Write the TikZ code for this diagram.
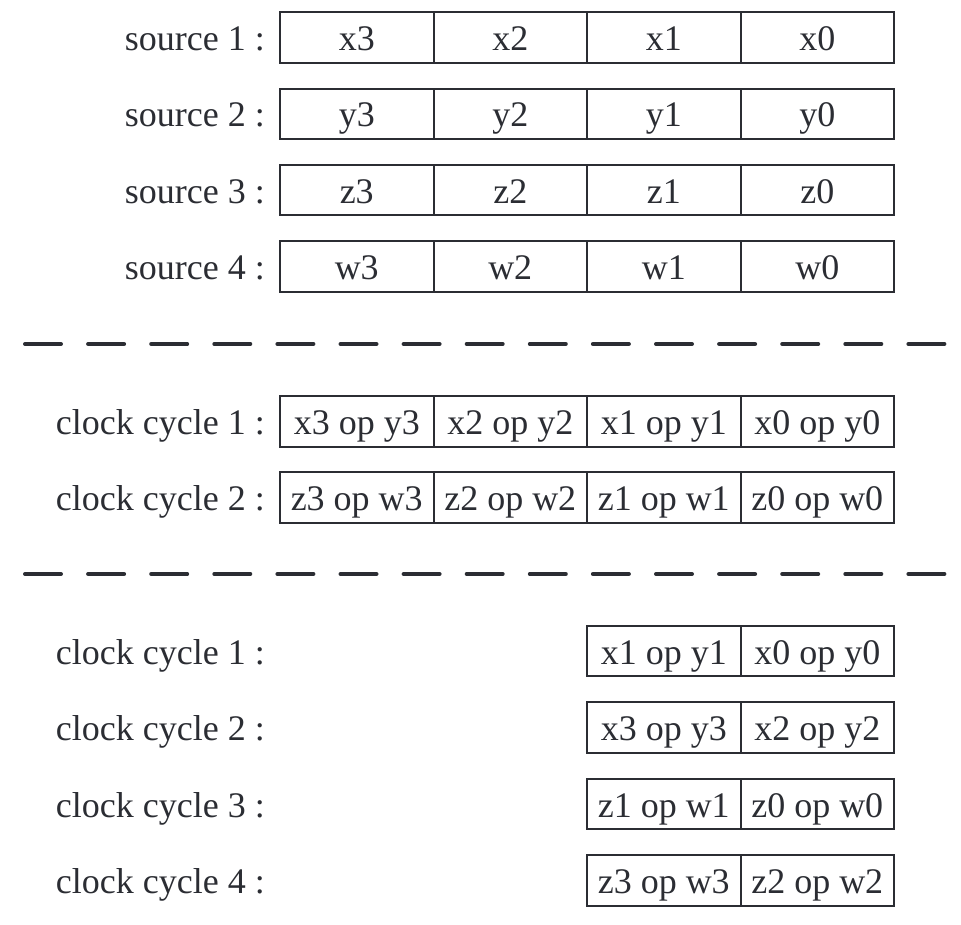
\documentclass[tikz,border=0pt]{standalone}
\usepackage{fontspec}
\setmainfont{Liberation Serif}
\definecolor{ink}{HTML}{2B2D33}
\begin{document}
\begin{tikzpicture}[x=1pt,y=-1pt,
  cell/.style={draw=ink,line width=2pt,minimum width=153.5pt,minimum height=50.5pt,inner sep=0pt,text height=27pt,text depth=1pt,text=ink,font=\fontsize{36}{40}\selectfont},
  lbl/.style={anchor=base east,inner sep=0pt,text=ink,font=\fontsize{36}{40}\selectfont},
  sep/.style={draw=ink,line width=4pt,line cap=round,dash pattern=on 36pt off 27.1pt}]
\useasboundingbox (0,0) rectangle (961,925);
% source rows
\foreach \r/\y/\v in {1/37.5/x,2/113.8/y,3/190.1/z,4/266.4/w}{
  \node[lbl] (sl\r) at (265,\y+13) {source \r\ :};
  \node[cell] (s\r c3) at (356.75,\y) {\v3};
  \node[cell] (s\r c2) at (510.25,\y) {\v2};
  \node[cell] (s\r c1) at (663.75,\y) {\v1};
  \node[cell] (s\r c0) at (817.25,\y) {\v0};
}
\coordinate (d1a) at (25,344);
\coordinate (d1b) at (945,344);
\draw[sep] (d1a) -- (d1b);
% wide cycles
\foreach \r/\y/\a/\b in {1/421.5/x/y,2/497.5/z/w}{
  \node[lbl] (cl\r) at (265,\y+13) {clock cycle \r\ :};
  \node[cell] (c\r c3) at (356.75,\y) {\a3 op \b3};
  \node[cell] (c\r c2) at (510.25,\y) {\a2 op \b2};
  \node[cell] (c\r c1) at (663.75,\y) {\a1 op \b1};
  \node[cell] (c\r c0) at (817.25,\y) {\a0 op \b0};
}
\coordinate (d2a) at (25,574);
\coordinate (d2b) at (945,574);
\draw[sep] (d2a) -- (d2b);
% narrow cycles
\foreach \r/\y/\a/\b/\hi/\lo in {1/651/x/y/1/0,2/727.5/x/y/3/2,3/804/z/w/1/0,4/880.5/z/w/3/2}{
  \node[lbl] (nl\r) at (265,\y+13) {clock cycle \r\ :};
  \node[cell] (n\r h) at (663.75,\y) {\a\hi\ op \b\hi};
  \node[cell] (n\r l) at (817.25,\y) {\a\lo\ op \b\lo};
}
\end{tikzpicture}
\end{document}
